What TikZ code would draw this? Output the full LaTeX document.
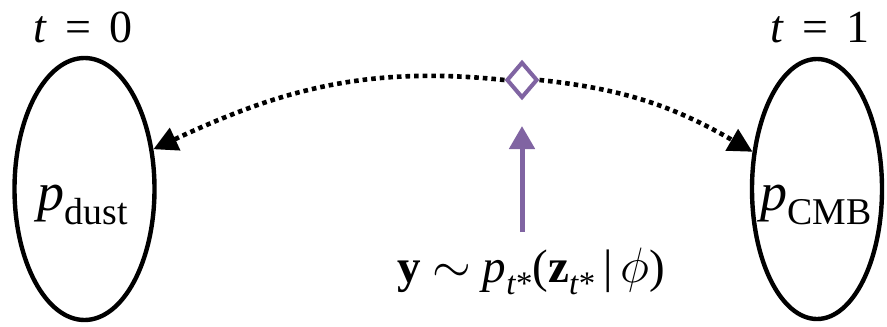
\documentclass[tikz,border=0pt]{standalone}
\usepackage{fontspec}
\setmainfont{Liberation Serif}
\usetikzlibrary{arrows.meta,shapes.geometric}
\definecolor{ink}{HTML}{000000}
\definecolor{pick}{HTML}{8064A2}
\newcommand{\lowsub}[1]{\raisebox{-0.26em}{\scalebox{0.7}{#1}}}
\newcommand{\eqgap}{\hspace{0.4em}=\hspace{0.4em}}
\tikzset{
  density/.style={ellipse, draw=ink, fill=white, line width=2.2pt, inner sep=0pt},
  probe/.style={diamond, draw=pick, fill=white, line width=2pt, inner sep=0pt, minimum width=15.5pt, minimum height=18pt},
  bridge/.style={draw=ink, line width=2.3pt, dash pattern=on 2.3pt off 2pt, -{Triangle[length=12pt,width=12pt]}},
  push/.style={draw=pick, line width=2.5pt, -{Triangle[length=11.5pt,width=12.5pt]}},
  t/.style={inner sep=0pt, anchor=base, font=\fontsize{23}{27}\selectfont, text=ink},
  tp/.style={t, font=\fontsize{27}{30}\selectfont},
  tf/.style={t, font=\fontsize{23.5}{27}\selectfont},
}
\begin{document}
\begin{tikzpicture}[x=0.5pt, y=-0.5pt]
  \useasboundingbox (0,0) rectangle (887,326);

  \node[density, minimum width=70pt, minimum height=131pt] (dust) at (84.5,189) {};
  \node[density, minimum width=65pt, minimum height=130pt] (cmb) at (817,189) {};
  \node[t] (t0) at (83,43) {\textit{t}\eqgap 0};
  \node[t] (t1) at (820,43) {\textit{t}\eqgap 1};
  \node[tp] (pdust) at (83,210) {\textit{p}\lowsub{dust}};
  \node[tp] (pcmb) at (816,210) {\textit{p}\lowsub{CMB}};

  \node[probe] (mark) at (522,80) {};
  \draw[bridge] (mark.west) to[out=174,in=25] (dust.30);
  \draw[bridge] (mark.east) to[out=-6,in=150] (cmb.150);

  \coordinate (foot) at (522,232);
  \draw[push] (foot) -- ([yshift=-13pt]mark.south);
  \node[tf] (draw) at (531,282) {\textbf{y} $\sim$ \textit{p}\lowsub{\textit{t}*}(\textbf{z}\lowsub{\textit{t}*}\,\textbar\,$\phi$)};
\end{tikzpicture}
\end{document}
